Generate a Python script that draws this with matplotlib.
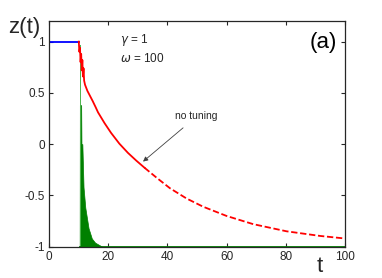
import numpy as np
import matplotlib
matplotlib.use("Agg")
import matplotlib.pyplot as plt

plt.rcParams['font.family'] = ['Liberation Sans', 'DejaVu Sans']

# blue: before the switch
blue_t = [0, 10.1]
blue_z = [1.0, 1.0]

# red: no tuning
red_t = [10.1, 10.3, 10.5, 10.7, 10.9, 11.1, 11.3, 11.5, 11.7, 11.9, 12.2,
         13.0, 13.9, 14.8, 15.8, 16.6, 18.8, 21.0, 23.8, 26.7, 29.5, 32.3]
red_z = [1.0, 0.90, 0.94, 0.80, 0.88, 0.72, 0.82, 0.66, 0.74, 0.62, 0.58,
         0.52, 0.47, 0.42, 0.36, 0.31, 0.205, 0.11, 0.005, -0.085, -0.16, -0.23]
red_tail_t = [32.3, 36.5, 40.9, 46.5, 52.1, 60.0, 69.0, 80.3, 91.6, 100.0]
red_tail_z = [-0.23, -0.33, -0.43, -0.53, -0.61, -0.70, -0.78, -0.85, -0.895, -0.92]

# green: tuned, envelope of the fast oscillation
green_t = [10.4, 10.45, 10.9, 11.0, 11.3, 11.7, 12.3, 13.4, 14.5, 15.6, 16.8, 18.0]
green_top = [-1.0, 0.38, 0.38, 0.0, 0.0, -0.42, -0.62, -0.82, -0.92, -0.96, -0.98, -1.0]
green_spike_t = [10.35, 10.35]
green_spike_z = [-1.0, 0.97]
green_base_t = [10.4, 100]
green_base_z = [-1.0, -1.0]

fig = plt.figure(figsize=(3.82, 2.78), dpi=100)
ax = fig.add_axes([0.128, 0.1126, 0.775, 0.8114])

ax.fill_between(green_t, -1, green_top, color=(0, 0.5, 0), lw=0.5)
ax.plot(green_spike_t, green_spike_z, color=(0.3, 0.7, 0.3), lw=0.7)
ax.plot(green_base_t, green_base_z, color=(0, 0.5, 0), lw=1.3)
ax.plot(blue_t, blue_z, color=(0, 0, 1), lw=1.3)
ax.plot(red_t, red_z, color=(1, 0, 0), lw=1.3)
ax.plot(red_tail_t, red_tail_z, color=(1, 0, 0), lw=1.3, dashes=(3.5, 1.5))

ax.set_xlim(0, 100)
ax.set_ylim(-1, 1.2)
ax.set_xticks([0, 20, 40, 60, 80, 100])
ax.set_yticks([-1, -0.5, 0, 0.5, 1])
ax.set_xticklabels(['0', '20', '40', '60', '80', '100'])
ax.set_yticklabels(['-1', '-0.5', '0', '0.5', '1'])
ax.tick_params(direction='in', length=3, width=0.8, labelsize=8.5,
               colors='#262626', top=True, right=True, pad=3)
for s in ax.spines.values():
    s.set_linewidth(0.9)
    s.set_color('#262626')

ax.text(24, 0.99, r'$\gamma$ = 1', fontsize=8.5, color='#262626')
ax.text(24, 0.80, r'$\omega$ = 100', fontsize=8.5, color='#262626')
ax.text(97.3, 0.99, '(a)', fontsize=16, ha='right', va='center', color='black')
ax.annotate('no tuning', xy=(31.8, -0.17), xytext=(42.7, 0.27),
            fontsize=7.5, color='#262626', va='center',
            arrowprops=dict(arrowstyle='-|>', color='#404040', lw=0.6,
                            mutation_scale=7, shrinkA=4, shrinkB=0))

fig.text(0.02, 0.88, 'z(t)', fontsize=16, color='#262626')
fig.text(0.828, 0.02, 't', fontsize=16, color='#262626')

fig.savefig('out.png', dpi=100)
